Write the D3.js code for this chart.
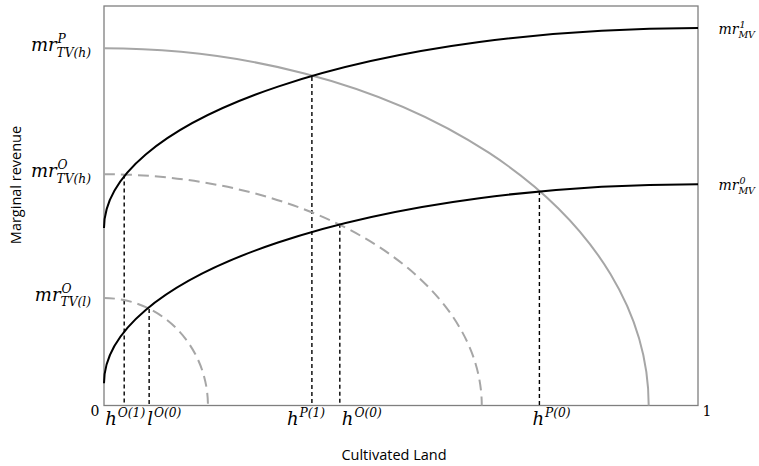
<!DOCTYPE html>
<html>
<head>
<meta charset="utf-8">
<script src="https://cdn.jsdelivr.net/npm/d3@7"></script>
<style>
  html, body { margin: 0; padding: 0; background: #fff; }
  svg { display: block; }
  .math { font-family: "DejaVu Serif", serif; font-style: italic; fill: #000; }
  .title { font-family: "Open Sans", sans-serif; font-size: 14.5px; fill: #000; }
</style>
</head>
<body>
<div id="chart"></div>
<script>
(function() {
  'use strict';

  // 축 눈금
  const xTicks = [0, 1];
  const xTickLabels = ['0', '1'];

  // 전통 품종(TV) 한계수입 곡선: y절편, x절편
  const tvIntercepts = [0.894, 0.579, 0.269];
  const tvRoots = [0.917, 0.636, 0.175];
  const tvDashed = [false, true, true];
  const tvSup = ['P', 'O', 'O'];
  const tvSub = ['TV(h)', 'TV(h)', 'TV(l)'];

  // 현대 품종(MV) 한계수입 곡선: 시작값(x=0), 끝값(x=1)
  const mvStart = [0.444, 0.056];
  const mvEnd = [0.945, 0.554];
  const mvSup = ['1', '0'];

  // 교점에서 내려오는 수직 점선
  const dropX = [0.034, 0.076, 0.35, 0.397, 0.733];
  const dropY = [0.578, 0.2415, 0.822, 0.455, 0.537];
  const dropBase = ['h', 'l', 'h', 'h', 'h'];
  const dropSup = ['O(1)', 'O(0)', 'P(1)', 'O(0)', 'P(0)'];

  const W = 759, H = 466;
  const plot = { left: 104, right: 698, top: 6, bottom: 405.5 };

  const svg = d3.select('#chart').append('svg')
    .attr('width', W)
    .attr('height', H);

  const x = d3.scaleLinear().domain([0, 1]).range([plot.left, plot.right]);
  const y = d3.scaleLinear().domain([0, 1]).range([plot.bottom, plot.top]);

  // 사분원 타원 경로 (SVG arc)
  function tvPath(b, a) {
    const rx = x(a) - x(0), ry = y(0) - y(b);
    return `M${x(0)},${y(b)} A${rx},${ry} 0 0 1 ${x(a)},${y(0)}`;
  }
  function mvPath(s, e) {
    const rx = x(1) - x(0), ry = y(s) - y(e);
    return `M${x(0)},${y(s)} A${rx},${ry} 0 0 1 ${x(1)},${y(e)}`;
  }

  // 프레임
  svg.append('rect')
    .attr('x', x(0)).attr('y', y(1))
    .attr('width', x(1) - x(0)).attr('height', y(0) - y(1))
    .attr('fill', 'none')
    .attr('stroke', '#7f7f7f')
    .attr('stroke-width', 1.3);

  // 수직 점선
  svg.selectAll('.drop')
    .data(dropX.map((d, i) => ({ x: d, y: dropY[i] })))
    .enter()
    .append('line')
    .attr('class', 'drop')
    .attr('x1', d => x(d.x)).attr('x2', d => x(d.x))
    .attr('y1', d => y(d.y)).attr('y2', y(0))
    .attr('stroke', '#000')
    .attr('stroke-width', 1.4)
    .attr('stroke-dasharray', '4,3');

  // TV 곡선
  svg.selectAll('.tv')
    .data(tvIntercepts.map((d, i) => ({ b: d, a: tvRoots[i], dashed: tvDashed[i] })))
    .enter()
    .append('path')
    .attr('class', 'tv')
    .attr('d', d => tvPath(d.b, d.a))
    .attr('fill', 'none')
    .attr('stroke', '#a6a6a6')
    .attr('stroke-width', 2)
    .attr('stroke-dasharray', d => d.dashed ? '11,6' : null);

  // MV 곡선
  svg.selectAll('.mv')
    .data(mvStart.map((d, i) => ({ s: d, e: mvEnd[i] })))
    .enter()
    .append('path')
    .attr('class', 'mv')
    .attr('d', d => mvPath(d.s, d.e))
    .attr('fill', 'none')
    .attr('stroke', '#000')
    .attr('stroke-width', 2);

  // 위첨자/아래첨자 라벨
  function mathLabel(px, py, base, sup, sub, size, anchorEnd) {
    const g = svg.append('g');
    const t = g.append('text').attr('class', 'math')
      .attr('x', 0).attr('y', 0)
      .attr('font-size', size)
      .text(base);
    const bw = t.node().getComputedTextLength();
    const ss = size * 0.68;
    let w = 0;
    if (sup) {
      const s = g.append('text').attr('class', 'math')
        .attr('x', bw + 1).attr('y', -size * 0.44)
        .attr('font-size', ss).text(sup);
      w = Math.max(w, s.node().getComputedTextLength());
    }
    if (sub) {
      const s = g.append('text').attr('class', 'math')
        .attr('x', bw).attr('y', size * 0.3)
        .attr('font-size', ss).text(sub);
      w = Math.max(w, s.node().getComputedTextLength());
    }
    const total = bw + 1 + w;
    g.attr('transform', `translate(${anchorEnd ? px - total : px},${py})`);
    return g;
  }

  tvIntercepts.forEach((d, i) => {
    mathLabel(92, y(d) + 3, 'mr', tvSup[i], tvSub[i], 18, true);
  });
  mvEnd.forEach((d, i) => {
    mathLabel(756, y(d) + 6, 'mr', mvSup[i], 'MV', 14, true);
  });

  const dropOffsets = [-19, -2, -25, 2, -7];
  dropX.forEach((d, i) => {
    mathLabel(x(d) + dropOffsets[i], 425, dropBase[i], dropSup[i], null, 18, false);
  });

  // 눈금 라벨
  svg.selectAll('.tick-label')
    .data(xTicks)
    .enter()
    .append('text')
    .attr('class', 'tick-label')
    .attr('x', (d, i) => i === 0 ? x(d) - 9 : x(d) + 9)
    .attr('y', y(0) + 10)
    .attr('text-anchor', 'middle')
    .attr('font-family', '"DejaVu Serif", serif')
    .attr('font-size', 14)
    .text((d, i) => xTickLabels[i]);

  // 축 제목
  svg.append('text')
    .attr('class', 'title')
    .attr('x', (x(0) + x(1)) / 2 - 7)
    .attr('y', 460)
    .attr('text-anchor', 'middle')
    .text('Cultivated Land');

  svg.append('text')
    .attr('class', 'title')
    .attr('transform', 'translate(21,185) rotate(-90)')
    .attr('text-anchor', 'middle')
    .text('Marginal revenue');
})();
</script>
</body>
</html>
